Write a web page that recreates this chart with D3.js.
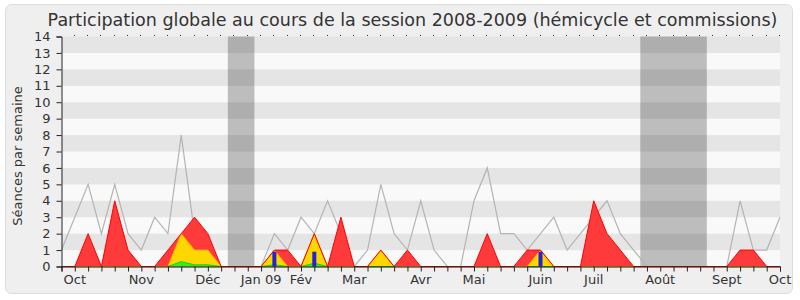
<!DOCTYPE html>
<html><head><meta charset="utf-8">
<script src="https://cdn.jsdelivr.net/npm/d3@7"></script>
<style>body{margin:0;background:#fff}svg{display:block}</style>
</head><body><svg id="c" width="800" height="300"></svg>
<script>
// ---- data (weekly, index 0 = first week of Oct 2008) ----
const titleText = "Participation globale au cours de la session 2008-2009 (hémicycle et commissions)";
const yLabel = "Séances par semaine";
const weeks = d3.range(55);
const mediane = [1,3,5,2,5,2,1,3,2,8,2,1,0,0,0,0,2,1,3,2,4,2,0,1,5,2,1,4,1,0,0,4,6,2,2,1,2,3,1,2,3,4,2,1,0,0,0,0,0,0,0,4,1,1,3];
const presenceTotale = [0,0,2,0,4,1,0,0,1,2,3,2,0,0,0,0,1,1,0,2,0,3,0,0,1,0,1,0,0,0,0,0,2,0,0,1,1,0,0,0,4,2,1,0,0,0,0,0,0,0,0,1,1,0,0];
const presenceHemicycle = [0,0,0,0,0,0,0,0,0,2,1,1,0,0,0,0,1,0,0,2,0,0,0,0,1,0,0,0,0,0,0,0,0,0,0,0,1,0,0,0,0,0,0,0,0,0,0,0,0,0,0,0,0,0,0];
const interventions = [0,0,0,0,0,0,0,0,0,0.3,0.1,0.1,0,0,0,0,0.1,0,0,0.2,0,0,0,0,0,0,0,0,0,0,0,0,0,0,0,0,0,0,0,0,0,0,0,0,0,0,0,0,0,0,0,0,0,0,0];
const questions = [{w:16,v:0.9},{w:19,v:0.9},{w:36,v:0.9}];
const vacances = [[13,14],[44,48]];
const monthLabels = ["Oct","Nov","Déc","Jan 09","Fév","Mar","Avr","Mai","Juin","Juil","Août","Sept","Oct"];
const monthWeeks = [1,6,11,15,18,22,27,31,36,40,45,50,54];
const yTicks = d3.range(0,15);

const svg = d3.select("#c");
const font = "DejaVu Sans, Verdana, sans-serif";
const txt = "#333";

svg.append("rect").attr("x",5.5).attr("y",4.5).attr("width",787).attr("height",289)
  .attr("rx",6).attr("fill","#efefef").attr("stroke","#dcdcdc");

const x = d3.scaleLinear().domain([0,54]).range([61.5,780]);
const y = d3.scaleLinear().domain([0,14]).range([266.5,36.5]);

// stripes
svg.append("g").selectAll("rect").data(d3.range(14)).join("rect")
  .attr("x",x(0)).attr("width",x(54)-x(0))
  .attr("y",d=>y(d+1)).attr("height",d=>y(d)-y(d+1))
  .attr("fill",d=>d%2===1?"#e5e5e5":"#f9f9f9");

// vacation bands
svg.append("g").selectAll("rect").data(vacances).join("rect")
  .attr("x",d=>x(d[0]-0.5)).attr("width",d=>x(d[1]+0.5)-x(d[0]-0.5))
  .attr("y",y(14)).attr("height",y(0)-y(14))
  .attr("fill","#000").attr("opacity",0.24);

// median line
svg.append("path").datum(mediane)
  .attr("d",d3.line().x((d,i)=>x(i)).y(d=>y(d)))
  .attr("fill","none").attr("stroke","#b4b4b4").attr("stroke-width",1.2);

const area = d3.area().x((d,i)=>x(i)).y0(y(0)).y1(d=>y(d));
const line = d3.line().x((d,i)=>x(i)).y(d=>y(d));
svg.append("path").datum(presenceTotale).attr("d",area).attr("fill","#ff3a3a");
svg.append("path").datum(presenceHemicycle).attr("d",area).attr("fill","#ffd700");
svg.append("path").datum(interventions).attr("d",area).attr("fill","#33ee22");
svg.append("path").datum(interventions).attr("d",line).attr("fill","none").attr("stroke","#22cc11");
svg.append("path").datum(presenceHemicycle).attr("d",line).attr("fill","none").attr("stroke","#ffaa00");
svg.append("path").datum(presenceTotale).attr("d",line).attr("fill","none").attr("stroke","#ff0000");

svg.append("g").selectAll("rect").data(questions).join("rect")
  .attr("x",d=>x(d.w)-2).attr("width",4)
  .attr("y",d=>y(d.v)).attr("height",d=>y(0)-y(d.v))
  .attr("fill","#2222dd");

// top dots
svg.append("g").selectAll("rect").data(weeks.slice(1)).join("rect")
  .attr("x",d=>Math.round(x(d))-1).attr("y",35).attr("width",1).attr("height",1).attr("fill","#333");

// axes
const yAxis = d3.axisLeft(y).tickValues(yTicks).tickSize(5).tickFormat(d3.format("d"));
const gy = svg.append("g").attr("transform",`translate(${x(0)},0)`).call(yAxis);
gy.select(".domain").attr("stroke","#222");
gy.selectAll(".tick line").attr("stroke","#222");
gy.selectAll("text").attr("font-family",font).attr("font-size",13).attr("fill",txt).attr("dx",-3);

const xAxis = d3.axisBottom(x).tickValues(weeks).tickSize(5).tickFormat("");
const gx = svg.append("g").attr("transform",`translate(0,${y(0)})`).call(xAxis);
gx.select(".domain").attr("stroke","#111");
gx.selectAll(".tick line").attr("stroke","#222");

svg.append("g").selectAll("text").data(monthLabels).join("text")
  .attr("x",(d,i)=>x(monthWeeks[i])).attr("y",284)
  .attr("text-anchor","middle").attr("font-family",font).attr("font-size",13).attr("fill",txt)
  .text(d=>d);

svg.append("text").attr("transform","translate(22,156) rotate(-90)")
  .attr("text-anchor","middle").attr("font-family",font).attr("font-size",13).attr("fill",txt)
  .text(yLabel);

svg.append("text").attr("x",412.5).attr("y",26).attr("text-anchor","middle")
  .attr("font-family",font).attr("font-size",17.5).attr("fill",txt).text(titleText);
</script></body></html>
